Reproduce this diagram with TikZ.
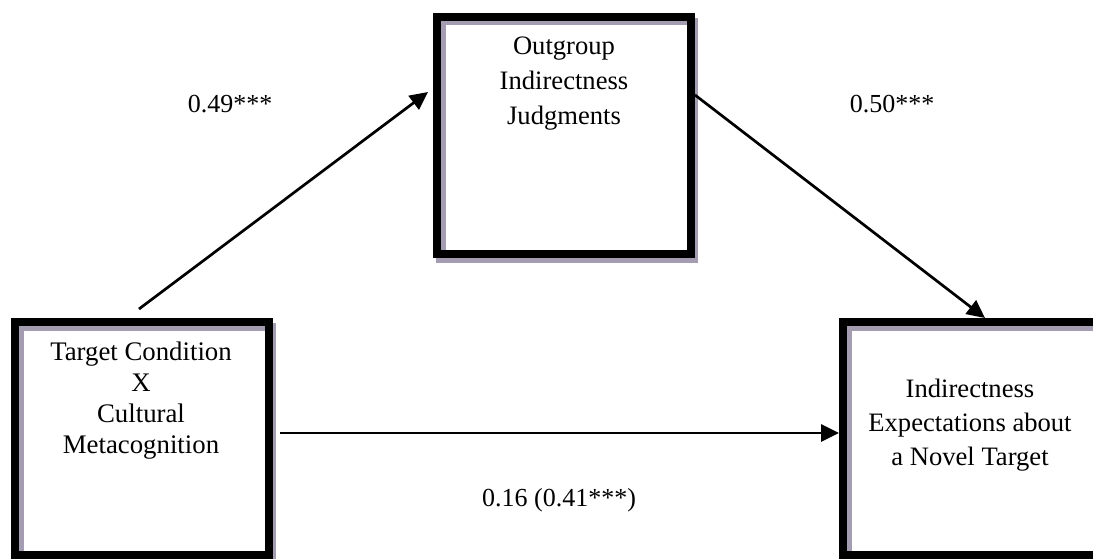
\documentclass[tikz,border=0pt]{standalone}
\usepackage{fontspec}
\setmainfont{Liberation Serif}
\usetikzlibrary{arrows.meta}
\definecolor{shgray}{RGB}{164,156,176}
\tikzset{
  x={(1pt,0)}, y={(0,-1pt)},
  framebox/.style={draw=black, line width=8pt, fill=white, rectangle, inner sep=0pt},
  boxtext/.style={align=center, inner sep=0pt, anchor=north},
  lbl/.style={font=\fontsize{26}{30}\selectfont, inner sep=0pt, anchor=base},
  arr/.style={line width=2.7pt, -{Triangle[length=18pt,width=17pt]}},
}
\newcommand{\innerstrips}[1]{%
  \fill[shgray] ([shift={(8,8)}]#1.north west) rectangle ([shift={(-8,12.5)}]#1.north east);
  \fill[shgray] ([shift={(8,8)}]#1.north west) rectangle ([shift={(12.5,-8)}]#1.south west);
}
\begin{document}
\begin{tikzpicture}
\clip (0,0) rectangle (1093,559);
\fill[white] (0,0) rectangle (1093,559);
% shadows
\fill[shgray] (436,18) rectangle (698,263);
\fill[shgray] (14,323) rectangle (276,570);
\fill[shgray] (842,323) rectangle (1110,570);
% boxes
\node[framebox, minimum width=254pt, minimum height=237pt] (b1) at (564,135.5) {};
\node[framebox, minimum width=254pt, minimum height=233pt] (b2) at (142,438.5) {};
\node[framebox, minimum width=258pt, minimum height=233pt] (b3) at (972,438.5) {};
\innerstrips{b1}
\innerstrips{b2}
\innerstrips{b3}
% texts
\node[boxtext, font=\fontsize{26.6}{35}\selectfont] (t1) at (564,36.5) {Outgroup\\Indirectness\\Judgments};
\node[boxtext, font=\fontsize{26.8}{31}\selectfont] (t2) at (141,341.5) {Target Condition\\X\\Cultural\\Metacognition};
\node[boxtext, font=\fontsize{26.6}{34}\selectfont] (t3) at (970,378.5) {Indirectness\\Expectations about\\a Novel Target};
% labels
\node[lbl] (l1) at (230,113) {0.49***};
\node[lbl] (l2) at (892,113) {0.50***};
\node[lbl] (l3) at (559,506) {0.16 (0.41***)};
% connectors
\coordinate (s1) at ([shift={(128,-9)}]b2.north west);
\coordinate (e1) at ([shift={(-5,79)}]b1.north west);
\draw[arr] (s1) -- (e1);
\draw[arr] ([shift={(0,82)}]b1.north east) -- ([shift={(146,0)}]b3.north west);
\draw[arr] ([shift={(7,115)}]b2.north east) -- ([shift={(0,115)}]b3.north west);
\end{tikzpicture}
\end{document}
